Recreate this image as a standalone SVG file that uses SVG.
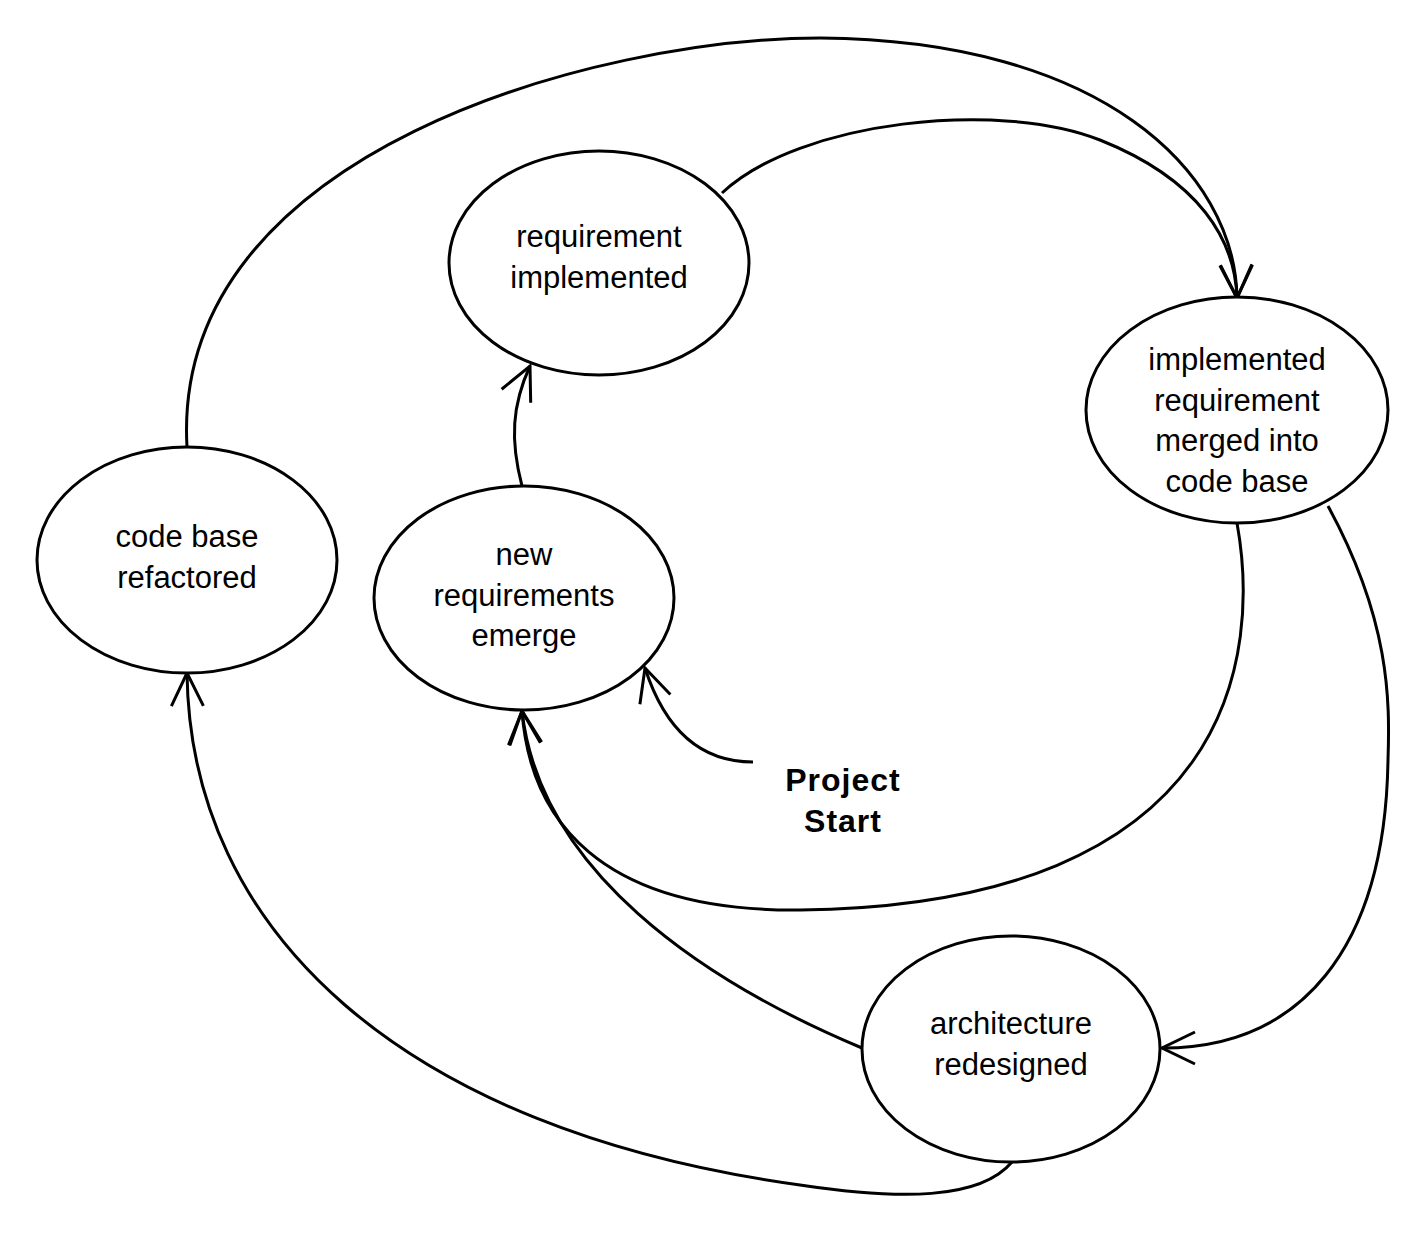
<svg xmlns="http://www.w3.org/2000/svg" width="1425" height="1250" viewBox="0 0 1425 1250">
<style>
.n ellipse{fill:#fff;stroke:#000;stroke-width:3}
text{font-family:"Liberation Sans",Arial,sans-serif;font-size:31px;text-anchor:middle;fill:#000}
.b{font-weight:bold;font-size:32px;letter-spacing:1px}
.c path{fill:none;stroke:#000;stroke-width:3;marker-end:url(#a)}
</style>
<defs>
<marker id="a" markerUnits="userSpaceOnUse" markerWidth="50" markerHeight="50" refX="0" refY="0" viewBox="-40 -25 50 50" orient="auto" overflow="visible">
<path d="M-33,-16 L0,0 L-33,16" fill="none" stroke="#000" stroke-width="3"/>
</marker>
</defs>
<rect width="1425" height="1250" fill="#fff"/>
<g class="c" id="connectors">
<path d="M187,447 C170,150 600,38 820,38 C1100,40 1235,170 1237,298"/>
<path d="M722,193 C800,120 1000,100 1100,140 C1200,180 1235,240 1237,298"/>
<path d="M522,486 C510,440 512,405 530,366"/>
<path d="M753,762 C700,762 665,730 645,668"/>
<path d="M1237,523 C1260,650 1240,905 800,910 C600,912 530,820 522,711"/>
<path d="M1328,506 C1390,620 1390,700 1388,760 C1385,950 1300,1048 1162,1048"/>
<path d="M862,1048 C700,980 540,870 522,711"/>
<path d="M1012,1162 C980,1200 900,1200 800,1185 C400,1130 190,930 187,673"/>
</g>
<g class="n" id="requirement-implemented">
<ellipse cx="599" cy="263" rx="150" ry="112"/>
<text x="599" y="247">requirement</text>
<text x="599" y="288">implemented</text>
</g>
<g class="n" id="implemented-merged">
<ellipse cx="1237" cy="410" rx="151" ry="113"/>
<text x="1237" y="370">implemented</text>
<text x="1237" y="411">requirement</text>
<text x="1237" y="451">merged into</text>
<text x="1237" y="492">code base</text>
</g>
<g class="n" id="code-base-refactored">
<ellipse cx="187" cy="560" rx="150" ry="113"/>
<text x="187" y="547">code base</text>
<text x="187" y="588">refactored</text>
</g>
<g class="n" id="new-requirements">
<ellipse cx="524" cy="598" rx="150" ry="112"/>
<text x="524" y="565">new</text>
<text x="524" y="606">requirements</text>
<text x="524" y="646">emerge</text>
</g>
<g class="n" id="architecture-redesigned">
<ellipse cx="1011" cy="1049" rx="149" ry="113"/>
<text x="1011" y="1034">architecture</text>
<text x="1011" y="1075">redesigned</text>
</g>
<g id="project-start">
<text class="b" x="843" y="791">Project</text>
<text class="b" x="843" y="832">Start</text>
</g>
</svg>
